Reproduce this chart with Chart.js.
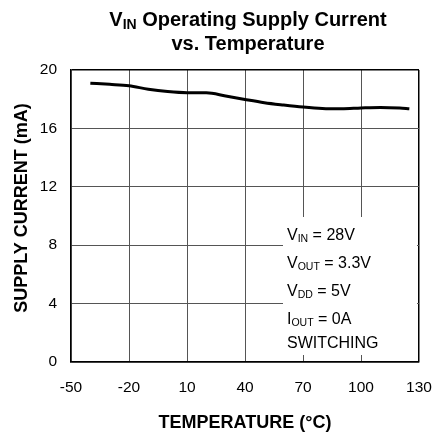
<!DOCTYPE html>
<html lang="en">
<head>
<meta charset="UTF-8" />
<title>VIN Operating Supply Current vs. Temperature</title>
<script src="https://cdn.jsdelivr.net/npm/chart.js@4.4.1/dist/chart.umd.min.js"></script>
<style>
  html, body { margin: 0; padding: 0; background: #fff; }
  #wrap { width: 435px; height: 436px; }
</style>
</head>
<body>
<div id="wrap"><canvas id="myChart"></canvas></div>
<script>
// values
const temperature = [-40, -30, -20, -10, 0, 10, 20, 30, 40, 50, 60, 70, 80, 90, 100, 110, 120, 125];
const supplyCurrent = [19.1, 19.02, 18.92, 18.68, 18.52, 18.44, 18.44, 18.22, 17.98, 17.76, 17.6, 17.46, 17.36, 17.34, 17.4, 17.44, 17.4, 17.35];

const xTicks = [-50, -20, 10, 40, 70, 100, 130];
const yTicks = [0, 4, 8, 12, 16, 20];

// text pieces: [text, isSubscript]
const titleLines = [
  [["V", false], ["IN", true], [" Operating Supply Current", false]],
  [["vs. Temperature", false]]
];
const noteLines = [
  [["V", false], ["IN", true], [" = 28V", false]],
  [["V", false], ["OUT", true], [" = 3.3V", false]],
  [["V", false], ["DD", true], [" = 5V", false]],
  [["I", false], ["OUT", true], [" = 0A", false]],
  [["SWITCHING", false]]
];
const yTitle = "SUPPLY CURRENT (mA)";
const xTitle = "TEMPERATURE (°C)";

const FONT = "'Liberation Sans', Arial, Helvetica, sans-serif";

function partsWidth(ctx, parts, main, sub) {
  let w = 0;
  parts.forEach(([t, s]) => { ctx.font = s ? sub : main; w += ctx.measureText(t).width; });
  return w;
}
function drawParts(ctx, parts, x, y, main, sub, subShift) {
  parts.forEach(([t, s]) => {
    ctx.font = s ? sub : main;
    ctx.fillText(t, x, s ? y + subShift : y);
    x += ctx.measureText(t).width;
  });
}

const textPlugin = {
  id: "textPlugin",
  beforeDatasetsDraw(chart) {
    const ctx = chart.ctx;
    // white panel behind the conditions note
    ctx.save();
    ctx.fillStyle = "#fff";
    ctx.fillRect(283, 217, 134, 138);
    ctx.restore();
  },
  afterDraw(chart) {
    const ctx = chart.ctx;
    ctx.save();
    ctx.fillStyle = "#000";
    ctx.textBaseline = "alphabetic";
    ctx.textAlign = "left";
    // title
    const tMain = "bold 20px " + FONT, tSub = "bold 14px " + FONT;
    const titleY = [26, 50];
    titleLines.forEach((parts, i) => {
      const w = partsWidth(ctx, parts, tMain, tSub);
      drawParts(ctx, parts, 248 - w / 2, titleY[i], tMain, tSub, 3);
    });
    // conditions note
    const nMain = "16px " + FONT, nSub = "10.5px " + FONT;
    const noteY = [240, 268, 296, 324, 348];
    noteLines.forEach((parts, i) => {
      drawParts(ctx, parts, 287, noteY[i], nMain, nSub, 2);
    });
    // y axis title
    ctx.translate(22, 208);
    ctx.rotate(-Math.PI / 2);
    ctx.textAlign = "center";
    ctx.textBaseline = "middle";
    ctx.font = "bold 18px " + FONT;
    ctx.fillText(yTitle, 0, 0);
    ctx.restore();
  }
};

const edgeColor = (c, lo, hi) => (c.tick && (c.tick.value === lo || c.tick.value === hi)) ? "#000" : "#555";
const edgeWidth = (c, lo, hi) => (c.tick && (c.tick.value === lo || c.tick.value === hi)) ? 1.5 : 1;

const ctx = document.getElementById("myChart").getContext("2d");
new Chart(ctx, {
  type: "line",
  data: {
    datasets: [{
      data: temperature.map((t, i) => ({ x: t, y: supplyCurrent[i] })),
      borderColor: "#000",
      borderWidth: 3,
      pointRadius: 0,
      fill: false,
      cubicInterpolationMode: "monotone"
    }]
  },
  options: {
    responsive: true,
    maintainAspectRatio: false,
    animation: false,
    layout: { padding: { top: 70, right: 16, left: 0, bottom: 0 } },
    plugins: { legend: { display: false }, tooltip: { enabled: false }, title: { display: false } },
    scales: {
      x: {
        type: "linear",
        min: -50, max: 130,
        afterBuildTicks: (s) => { s.ticks = xTicks.map(v => ({ value: v })); },
        afterFit: (s) => { s.height = 74; s.paddingLeft = 0; s.paddingRight = 0; },
        grid: { color: (c) => edgeColor(c, -50, 130), lineWidth: (c) => edgeWidth(c, -50, 130), drawTicks: false },
        border: { color: "#000", width: 1.5 },
        ticks: { color: "#000", font: { family: FONT, size: 15.5 }, padding: 16, maxRotation: 0 },
        title: { display: true, text: xTitle, color: "#000", font: { family: FONT, size: 18, weight: "bold" }, padding: { bottom: 2 } }
      },
      y: {
        min: 0, max: 20,
        afterBuildTicks: (s) => { s.ticks = yTicks.map(v => ({ value: v })); },
        afterFit: (s) => { s.width = 71; s.paddingTop = 0; s.paddingBottom = 0; },
        grid: { color: (c) => edgeColor(c, 0, 20), lineWidth: (c) => edgeWidth(c, 0, 20), drawTicks: false },
        border: { color: "#000", width: 1.5 },
        ticks: { color: "#000", font: { family: FONT, size: 15.5 }, padding: 14 }
      }
    }
  },
  plugins: [textPlugin]
});
</script>
</body>
</html>
